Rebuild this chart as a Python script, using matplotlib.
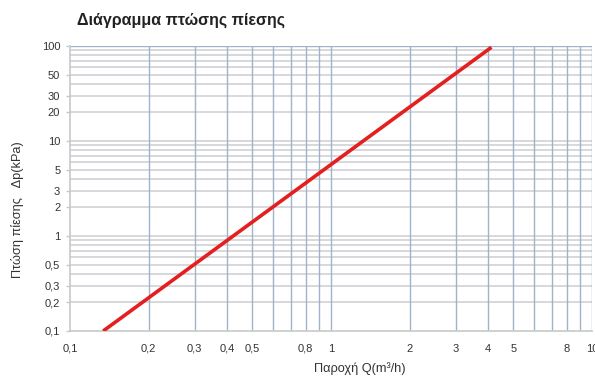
import matplotlib
matplotlib.use("Agg")
import matplotlib.pyplot as plt
from matplotlib.ticker import FixedLocator, FixedFormatter, NullFormatter

plt.rcParams['font.family'] = ['Liberation Sans', 'DejaVu Sans']

# Data
flow_q = [0.134, 4.12]          # m3/h
pressure_dp = [0.1, 97.0]       # kPa

x_ticks = [0.1, 0.2, 0.3, 0.4, 0.5, 0.8, 1, 2, 3, 4, 5, 8, 10]
x_tick_labels = ["0,1", "0,2", "0,3", "0,4", "0,5", "0,8", "1", "2", "3", "4", "5", "8", "10"]
y_ticks = [0.1, 0.2, 0.3, 0.5, 1, 2, 3, 5, 10, 20, 30, 50, 100]
y_tick_labels = ["0,1", "0,2", "0,3", "0,5", "1", "2", "3", "5", "10", "20", "30", "50", "100"]

x_grid = [0.2, 0.3, 0.4, 0.5, 0.6, 0.7, 0.8, 0.9, 1, 2, 3, 4, 5, 6, 7, 8, 9, 10]
y_grid = [0.2, 0.3, 0.4, 0.5, 0.6, 0.7, 0.8, 0.9, 1, 2, 3, 4, 5, 6, 7, 8, 9, 10,
          20, 30, 40, 50, 60, 70, 80, 90, 100]

fig = plt.figure(figsize=(5.95, 3.77), dpi=100)
ax = fig.add_axes([70/595, 1-331/377, (592-70)/595, (331-46)/377])
ax.set_xscale('log')
ax.set_yscale('log')
ax.set_xlim(0.1, 10)
ax.set_ylim(0.1, 100)

for yv in y_grid:
    ax.axhline(yv, color='#d3d6da', lw=1.3, zorder=1)
for xv in x_grid:
    ax.axvline(xv, color='#9fb3c9', lw=1.0, zorder=2)
ax.axhline(100, color='#9fb3c9', lw=1.0, zorder=2)

ax.plot(flow_q, pressure_dp, color='#e3201f', lw=2.6, zorder=5, solid_capstyle='butt')

ax.xaxis.set_major_locator(FixedLocator(x_ticks))
ax.xaxis.set_major_formatter(FixedFormatter(x_tick_labels))
ax.xaxis.set_minor_locator(FixedLocator([]))
ax.xaxis.set_minor_formatter(NullFormatter())
ax.yaxis.set_major_locator(FixedLocator(y_ticks))
ax.yaxis.set_major_formatter(FixedFormatter(y_tick_labels))
ax.yaxis.set_minor_locator(FixedLocator([]))
ax.yaxis.set_minor_formatter(NullFormatter())

ax.tick_params(axis='both', labelsize=8, colors='#333333', length=3, width=1,
               color='#c8c8c8', pad=4)
ax.tick_params(axis='x', pad=9, length=0)
for s in ['top', 'right']:
    ax.spines[s].set_visible(False)
ax.spines['left'].set_color('#c8c8c8')
ax.spines['bottom'].set_color('#c8c8c8')
ax.spines['left'].set_linewidth(1.2)
ax.spines['bottom'].set_linewidth(1.2)

fig.text(77/595, 1-20/377, "Διάγραμμα πτώσης πίεσης", fontsize=11.5, fontweight='bold',
         color='#222222', ha='left', va='center')
fig.text(360/595, 1-369/377, "Παροχή Q(m³/h)", fontsize=9.2, color='#333333',
         ha='center', va='center')
fig.text(18/595, 1-210/377, "Πτώση πίεσης   Δp(kPa)", fontsize=9.2, color='#333333',
         ha='center', va='center', rotation=90)

fig.savefig("out.png", dpi=100)
